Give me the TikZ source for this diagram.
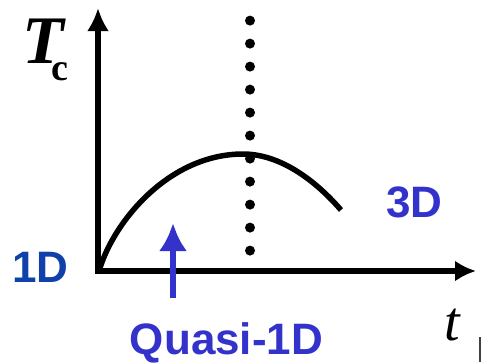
\documentclass[tikz,border=0pt]{standalone}
\usepackage{fontspec}
\setmainfont{Liberation Serif}
\newfontfamily\labfont{Liberation Sans}
\usetikzlibrary{arrows.meta}
\definecolor{qblue}{RGB}{51,51,204}
\definecolor{dblue}{RGB}{16,64,170}
\tikzset{
  axisline/.style={line width=6pt, line join=miter},
  curveline/.style={line width=5.5pt},
  lab/.style={font=\labfont\bfseries\fontsize{44}{44}\selectfont, inner sep=0pt, anchor=base, text depth=0pt},
  dotmark/.style={fill=black},
}
\begin{document}
\begin{tikzpicture}[x=1pt,y=-1pt]
\useasboundingbox (0,0) rectangle (489,362);
\coordinate (ytop) at (98,8);
\coordinate (O) at (98,271);
\coordinate (xend) at (476,271);
\draw[axisline, {Latex[length=23pt,width=22pt]}-{Latex[length=21pt,width=21pt]}] (ytop) -- (O) -- (xend);
% dotted line
\foreach \i in {0,...,10} {
  \fill[dotmark] (250,{20.6+23*\i}) circle (5);
}
% curve
\coordinate (c0) at (100,268);
\coordinate (cp) at (243,154);
\coordinate (c1) at (341,210);
\draw[curveline] (c0) .. controls (115,220) and (170,154) .. (cp) .. controls (280,154) and (315,180) .. (c1);
% labels
\node[inner sep=0pt, anchor=base west, text depth=0pt, font=\bfseries\fontsize{68}{68}\selectfont] (Tc) at (22.5,63)
  {\itshape T\kern-12.5pt\raisebox{-17pt}{\upshape\fontsize{38}{38}\selectfont c}};
\node[inner sep=0pt, anchor=base, text depth=0pt, font=\itshape\fontsize{56}{56}\selectfont] (t) at (452,340) {t};
\node[lab, text=qblue] (d3) at (414.5,217) {3D};
\node[lab, text=dblue] (d1) at (40.5,282) {1D};
\node[lab, text=qblue] (q) at (226.5,354) {Quasi-1D};
\coordinate (qa) at (173,298);
\coordinate (qb) at (173,223);
\draw[line width=6pt, qblue, -{Latex[length=28pt,width=28pt]}] (qa) -- (qb);
% small mark
\coordinate (m1) at (480,337);
\coordinate (m2) at (480,362);
\draw[line width=1.5pt, black!75] (m1) -- (m2);
\end{tikzpicture}
\end{document}
